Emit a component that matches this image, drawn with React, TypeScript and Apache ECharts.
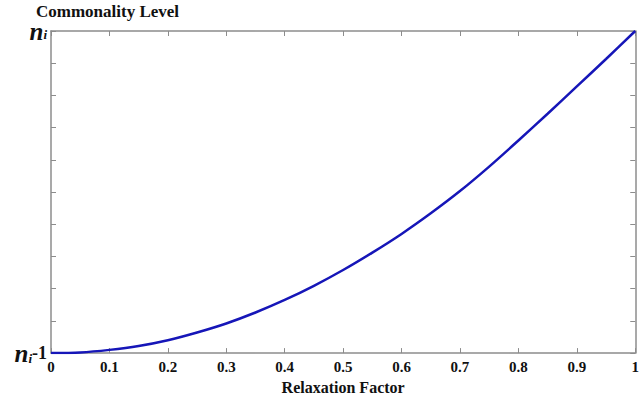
import React, { useEffect, useRef } from "react";
import * as echarts from "echarts";

const xValues = [0, 0.05, 0.1, 0.15, 0.2, 0.25, 0.3, 0.35, 0.4, 0.45, 0.5, 0.55, 0.6, 0.65, 0.7, 0.75, 0.8, 0.85, 0.9, 0.95, 1];
const levelValues = [0, 0.002, 0.01, 0.022, 0.04, 0.064, 0.092, 0.126, 0.165, 0.209, 0.258, 0.312, 0.37, 0.434, 0.503, 0.579, 0.66, 0.743, 0.828, 0.913, 1];
const xTickLabels = ["0", "0.1", "0.2", "0.3", "0.4", "0.5", "0.6", "0.7", "0.8", "0.9", "1"];
const yEndLabels = ["n", "i", "-1"];

const SERIF = "Liberation Serif";
const MATH = "Liberation Serif";
const AXIS_COLOR = "#8c8c8c";
const TEXT = "#111111";

export default function App() {
  const ref = useRef<HTMLDivElement>(null);
  useEffect(() => {
    if (!ref.current) return;
    const chart = echarts.init(ref.current, null, { renderer: "svg" });
    const tick = { show: true, inside: true, length: 5, lineStyle: { color: AXIS_COLOR, width: 1 } };
    const line = { show: true, onZero: false, lineStyle: { color: AXIS_COLOR, width: 1.5 } };
    const nStyle = { fontFamily: MATH, fontStyle: "italic", fontWeight: "bold", fontSize: 25, color: TEXT };
    const iStyle = { fontFamily: MATH, fontStyle: "italic", fontWeight: "bold", fontSize: 13, color: TEXT };
    const mStyle = { fontFamily: SERIF, fontWeight: "bold", fontSize: 18, color: TEXT };
    chart.setOption({
      animation: false,
      backgroundColor: "#ffffff",
      title: {
        text: "Commonality Level",
        left: 36,
        top: 3,
        padding: 0,
        textStyle: { fontFamily: SERIF, fontWeight: "bold", fontSize: 17, lineHeight: 17, color: TEXT },
      },
      grid: { left: 51, right: 1, top: 31, bottom: 36, containLabel: false },
      xAxis: [
        {
          type: "value",
          min: 0,
          max: 1,
          interval: 0.1,
          position: "bottom",
          name: "Relaxation Factor",
          nameLocation: "middle",
          nameGap: 19,
          nameTextStyle: { fontFamily: SERIF, fontWeight: "bold", fontSize: 16, color: TEXT },
          axisLine: line,
          axisTick: tick,
          splitLine: { show: false },
          axisLabel: {
            margin: 6,
            fontFamily: SERIF,
            fontWeight: "bold",
            fontSize: 15,
            color: TEXT,
            formatter: (v: number) => xTickLabels[Math.round(v * 10)] ?? "",
          },
        },
        {
          type: "value",
          min: 0,
          max: 1,
          interval: 0.1,
          position: "top",
          axisLine: line,
          axisTick: tick,
          axisLabel: { show: false },
          splitLine: { show: false },
        },
      ],
      yAxis: [
        {
          type: "value",
          min: 0,
          max: 1,
          interval: 0.1,
          position: "left",
          axisLine: line,
          axisTick: tick,
          splitLine: { show: false },
          axisLabel: {
            margin: 4,
            showMinLabel: true,
            showMaxLabel: true,
            formatter: (v: number) => {
              if (v === 0) return `{n2|${yEndLabels[0]}}{i2|${yEndLabels[1]}}{m2|${yEndLabels[2]}}`;
              if (Math.abs(v - 1) < 1e-9) return `{n|${yEndLabels[0]}}{i|${yEndLabels[1]}}`;
              return "";
            },
            rich: {
              n: { ...nStyle, lineHeight: 20 },
              i: { ...iStyle, lineHeight: 13, padding: [7, 0, 0, 0] },
              n2: { ...nStyle },
              i2: { ...iStyle, padding: [10, 0, 0, 0] },
              m2: { ...mStyle, padding: [0, 0, 0, 0] },
            },
          },
        },
        {
          type: "value",
          min: 0,
          max: 1,
          interval: 0.1,
          position: "right",
          axisLine: line,
          axisTick: tick,
          axisLabel: { show: false },
          splitLine: { show: false },
        },
      ],
      series: [
        {
          type: "line",
          data: xValues.map((x, k) => [x, levelValues[k]]),
          smooth: 0.3,
          showSymbol: false,
          lineStyle: { color: "#1616b8", width: 2.5 },
        },
      ],
    });
    return () => chart.dispose();
  }, []);
  return <div ref={ref} style={{ position: "fixed", left: 0, top: 0, width: 642, height: 400 }} />;
}
